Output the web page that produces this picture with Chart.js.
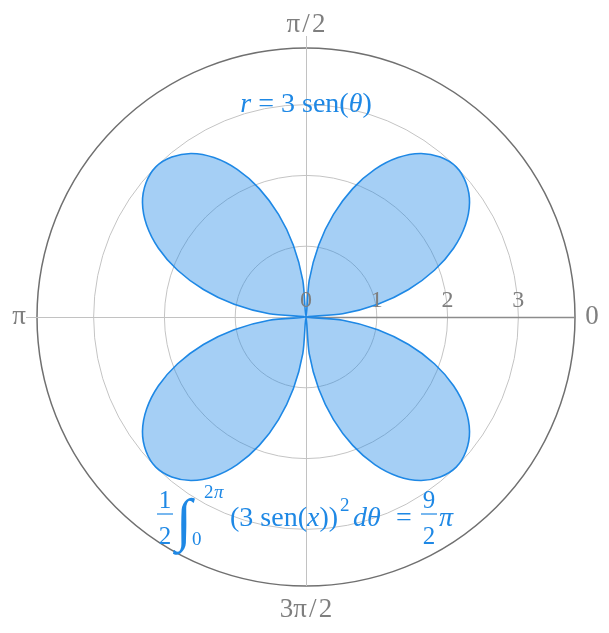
<!DOCTYPE html>
<html>
<head>
<meta charset="utf-8">
<script src="https://cdn.jsdelivr.net/npm/chart.js@4.4.0/dist/chart.umd.min.js"></script>
<style>
  html, body { margin: 0; padding: 0; background: #fff; }
  #wrap { width: 609px; height: 633px; }
</style>
</head>
<body>
<div id="wrap"><canvas id="rosa"></canvas></div>
<script>
// angulos (graus), na ordem em que o radar percorre (sentido horario a partir de 0)
var theta = [0,355,350,345,340,335,330,325,320,315,310,305,300,295,290,285,280,275,
             270,265,260,255,250,245,240,235,230,225,220,215,210,205,200,195,190,185,
             180,175,170,165,160,155,150,145,140,135,130,125,120,115,110,105,100,95,
             90,85,80,75,70,65,60,55,50,45,40,35,30,25,20,15,10,5];
// raio, um valor por angulo
var raio = [0,0.52,1.03,1.5,1.93,2.3,2.6,2.82,2.95,3.0,2.95,2.82,2.6,2.3,1.93,1.5,1.03,0.52,
            0,0.52,1.03,1.5,1.93,2.3,2.6,2.82,2.95,3.0,2.95,2.82,2.6,2.3,1.93,1.5,1.03,0.52,
            0,0.52,1.03,1.5,1.93,2.3,2.6,2.82,2.95,3.0,2.95,2.82,2.6,2.3,1.93,1.5,1.03,0.52,
            0,0.52,1.03,1.5,1.93,2.3,2.6,2.82,2.95,3.0,2.95,2.82,2.6,2.3,1.93,1.5,1.03,0.52];
var circulos = [0, 1, 2, 3, 3.8];      // grade radial (3.8 = borda)
var rotulosR = [0, 1, 2, 3];           // numeros sobre o eixo
var rotulosAng = ['0', 'π\u200A/\u200A2', 'π', '3π\u200A/\u200A2'];

var AZUL = '#1E88E5';
var CINZA = '#7f7f7f';
var SERIF = '"Liberation Serif", "DejaVu Serif", serif';

// escreve uma sequencia de pedacos de texto e devolve o x final
function escreve(ctx, x, y, partes) {
  partes.forEach(function (p) {
    ctx.font = (p.it ? 'italic ' : '') + p.s + 'px ' + SERIF;
    ctx.fillText(p.t, x + (p.dx || 0), y + (p.dy || 0));
    x += ctx.measureText(p.t).width + (p.dx || 0);
  });
  return x;
}
function largura(ctx, partes) {
  var w = 0;
  partes.forEach(function (p) {
    ctx.font = (p.it ? 'italic ' : '') + p.s + 'px ' + SERIF;
    w += ctx.measureText(p.t).width + (p.dx || 0);
  });
  return w;
}
function fracao(ctx, cx, yBar, num, den, s) {
  ctx.font = s + 'px ' + SERIF;
  ctx.textAlign = 'center';
  ctx.fillText(num, cx, yBar - 6);
  ctx.fillText(den, cx, yBar + 30);
  ctx.textAlign = 'left';
  ctx.fillRect(cx - 8, yBar - 0.6, 16, 1.2);
}

var eixos = {
  id: 'eixos',
  beforeDatasetsDraw: function (chart) {
    var s = chart.scales.r, ctx = chart.ctx;
    var cx = s.xCenter, cy = s.yCenter, R = s.drawingArea;
    ctx.save();
    ctx.lineWidth = 1;
    ctx.strokeStyle = '#c2c2c2';
    ctx.beginPath();
    ctx.moveTo(cx + 0.5, cy - R - 12); ctx.lineTo(cx + 0.5, cy + R);
    ctx.moveTo(cx - R - 11, cy + 0.5); ctx.lineTo(cx, cy + 0.5);
    ctx.stroke();
    ctx.strokeStyle = '#8c8c8c';
    ctx.lineWidth = 1.3;
    ctx.beginPath();
    ctx.moveTo(cx, cy + 0.5); ctx.lineTo(cx + R, cy + 0.5);
    ctx.stroke();
    ctx.restore();
  },
  afterDatasetsDraw: function (chart) {
    var s = chart.scales.r, ctx = chart.ctx;
    var cx = s.xCenter, cy = s.yCenter, R = s.drawingArea;
    ctx.save();
    ctx.fillStyle = CINZA;
    ctx.textAlign = 'center';
    ctx.textBaseline = 'alphabetic';
    ctx.font = '24px ' + SERIF;
    rotulosR.forEach(function (v) {
      ctx.fillText(String(v), cx + s.getDistanceFromCenterForValue(v), cy - 10);
    });
    ctx.font = '27px ' + SERIF;
    ctx.textBaseline = 'middle';
    ctx.fillText(rotulosAng[0], cx + R + 17, cy);
    ctx.fillText(rotulosAng[2], cx - R - 18, cy);
    ctx.textBaseline = 'alphabetic';
    ctx.fillText(rotulosAng[1], cx, cy - R - 16);
    ctx.fillText(rotulosAng[3], cx, cy + R + 31);

    // titulo
    ctx.fillStyle = AZUL;
    ctx.textAlign = 'left';
    var tit = [{t: 'r', it: true, s: 28}, {t: ' = 3 sen(', s: 28}, {t: 'θ', it: true, s: 28}, {t: ')', s: 28}];
    escreve(ctx, cx - largura(ctx, tit) / 2, 112, tit);

    // area
    fracao(ctx, 165, 514, '1', '2', 25);
    ctx.font = 'italic 58px ' + SERIF;
    ctx.fillText('∫', 176, 539);
    ctx.font = '19px ' + SERIF;
    ctx.fillText('2', 204, 498);
    ctx.font = 'italic 19px ' + SERIF;
    ctx.fillText('π', 214, 498);
    ctx.font = '19px ' + SERIF;
    ctx.fillText('0', 192, 545);
    var x = escreve(ctx, 230, 526, [{t: '(3 sen(', s: 28}, {t: 'x', it: true, s: 28}, {t: '))', s: 28}]);
    ctx.font = '19px ' + SERIF;
    ctx.fillText('2', x + 2, 511);
    escreve(ctx, x + 15, 526, [{t: 'd', it: true, s: 28}, {t: 'θ', it: true, s: 28}]);
    ctx.font = '28px ' + SERIF;
    ctx.fillText('=', 396, 526);
    fracao(ctx, 429, 514, '9', '2', 25);
    ctx.font = 'italic 28px ' + SERIF;
    ctx.fillText('π', 439, 526);
    ctx.restore();
  }
};

new Chart(document.getElementById('rosa'), {
  type: 'radar',
  data: {
    labels: theta,
    datasets: [{
      data: raio,
      borderColor: AZUL,
      borderWidth: 1.6,
      backgroundColor: 'rgba(30,136,229,0.4)',
      fill: true,
      tension: 0.3,
      pointRadius: 0
    }]
  },
  options: {
    responsive: true,
    maintainAspectRatio: false,
    animation: false,
    layout: { padding: { left: 37, right: 34, top: 48, bottom: 47 } },
    plugins: { legend: { display: false }, tooltip: { enabled: false } },
    scales: {
      r: {
        min: 0,
        max: 3.8,
        startAngle: 90,
        afterBuildTicks: function (s) { s.ticks = circulos.map(function (v) { return {value: v}; }); },
        ticks: { display: false },
        grid: {
          circular: true,
          color: function (c) { return c.tick.value >= 3.8 ? '#707070' : '#c4c4c4'; },
          lineWidth: function (c) { return c.tick.value >= 3.8 ? 1.5 : 1; }
        },
        angleLines: { display: false },
        pointLabels: { display: false }
      }
    }
  },
  plugins: [eixos]
});
</script>
</body>
</html>
